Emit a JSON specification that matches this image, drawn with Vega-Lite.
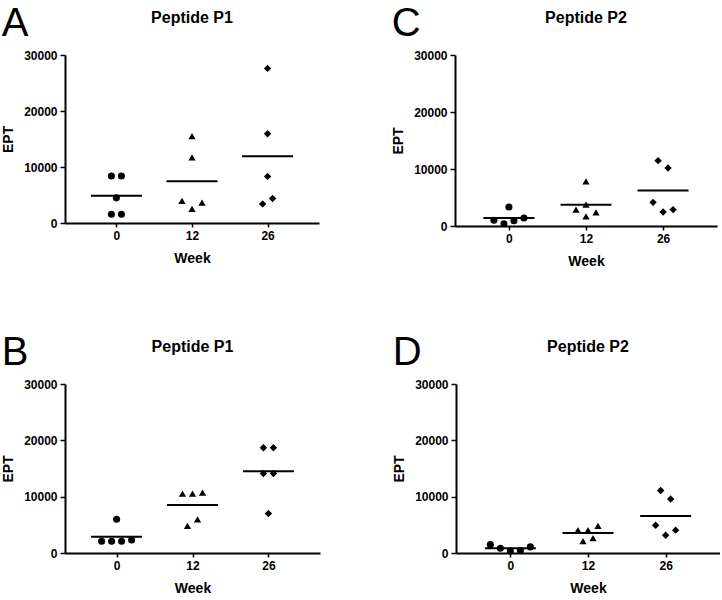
{
  "$schema": "https://vega.github.io/schema/vega-lite/v6.json",
  "padding": {"left": 1, "top": 4, "right": 0, "bottom": 0},
  "background": "white",
  "config": {
    "view": {"stroke": null},
    "font": "Liberation Sans",
    "axis": {
      "domainColor": "black", "domainWidth": 2, "tickColor": "black", "tickWidth": 1.5,
      "labelColor": "black", "labelFont": "Liberation Sans", "labelFontWeight": "bold", "labelFontSize": 12,
      "titleFont": "Liberation Sans", "titleFontWeight": "bold", "titleFontSize": 14, "titleColor": "black",
      "grid": false
    },
    "axisX": {"tickSize": 4, "labelAngle": 0, "labelPadding": 3, "titlePadding": 10},
    "axisY": {"tickSize": 5, "labelPadding": 3, "titlePadding": 8}
  },
  "datasets": {
    "ept": [
      {"panel": "A", "week": "0", "lane": -1, "ept": 8383},
      {"panel": "A", "week": "0", "lane": 1, "ept": 8383},
      {"panel": "A", "week": "0", "lane": 0, "ept": 4491},
      {"panel": "A", "week": "0", "lane": -1, "ept": 1557},
      {"panel": "A", "week": "0", "lane": 1, "ept": 1557},
      {"panel": "A", "week": "12", "lane": 0, "ept": 15509},
      {"panel": "A", "week": "12", "lane": 0, "ept": 11737},
      {"panel": "A", "week": "12", "lane": -2, "ept": 3952},
      {"panel": "A", "week": "12", "lane": 0, "ept": 2515},
      {"panel": "A", "week": "12", "lane": 2, "ept": 3653},
      {"panel": "A", "week": "26", "lane": 0, "ept": 27605},
      {"panel": "A", "week": "26", "lane": 0, "ept": 15928},
      {"panel": "A", "week": "26", "lane": 0, "ept": 8323},
      {"panel": "A", "week": "26", "lane": -1, "ept": 3413},
      {"panel": "A", "week": "26", "lane": 1, "ept": 4371},
      {"panel": "C", "week": "0", "lane": 0, "ept": 3333},
      {"panel": "C", "week": "0", "lane": -3, "ept": 994},
      {"panel": "C", "week": "0", "lane": -1, "ept": 409},
      {"panel": "C", "week": "0", "lane": 1, "ept": 936},
      {"panel": "C", "week": "0", "lane": 3, "ept": 1404},
      {"panel": "C", "week": "12", "lane": 0, "ept": 7836},
      {"panel": "C", "week": "12", "lane": 0, "ept": 3743},
      {"panel": "C", "week": "12", "lane": -2, "ept": 2866},
      {"panel": "C", "week": "12", "lane": 0, "ept": 1696},
      {"panel": "C", "week": "12", "lane": 2, "ept": 2398},
      {"panel": "C", "week": "26", "lane": -1, "ept": 11462},
      {"panel": "C", "week": "26", "lane": 1, "ept": 10175},
      {"panel": "C", "week": "26", "lane": -2, "ept": 4152},
      {"panel": "C", "week": "26", "lane": 0, "ept": 2456},
      {"panel": "C", "week": "26", "lane": 2, "ept": 2866},
      {"panel": "B", "week": "0", "lane": 0, "ept": 5988},
      {"panel": "B", "week": "0", "lane": -3, "ept": 2075},
      {"panel": "B", "week": "0", "lane": -1, "ept": 2075},
      {"panel": "B", "week": "0", "lane": 1, "ept": 2075},
      {"panel": "B", "week": "0", "lane": 3, "ept": 2312},
      {"panel": "B", "week": "12", "lane": -2, "ept": 10554},
      {"panel": "B", "week": "12", "lane": 0, "ept": 10554},
      {"panel": "B", "week": "12", "lane": 2, "ept": 10731},
      {"panel": "B", "week": "12", "lane": -1, "ept": 4802},
      {"panel": "B", "week": "12", "lane": 1, "ept": 5988},
      {"panel": "B", "week": "26", "lane": -1, "ept": 18676},
      {"panel": "B", "week": "26", "lane": 1, "ept": 18676},
      {"panel": "B", "week": "26", "lane": -1, "ept": 14111},
      {"panel": "B", "week": "26", "lane": 1, "ept": 14111},
      {"panel": "B", "week": "26", "lane": 0, "ept": 6996},
      {"panel": "D", "week": "0", "lane": -4, "ept": 1486},
      {"panel": "D", "week": "0", "lane": -2, "ept": 857},
      {"panel": "D", "week": "0", "lane": 0, "ept": 343},
      {"panel": "D", "week": "0", "lane": 2, "ept": 457},
      {"panel": "D", "week": "0", "lane": 4, "ept": 1086},
      {"panel": "D", "week": "12", "lane": -2, "ept": 4057},
      {"panel": "D", "week": "12", "lane": 0, "ept": 4057},
      {"panel": "D", "week": "12", "lane": 2, "ept": 4800},
      {"panel": "D", "week": "12", "lane": -1, "ept": 2114},
      {"panel": "D", "week": "12", "lane": 1, "ept": 2628},
      {"panel": "D", "week": "26", "lane": -1, "ept": 11085},
      {"panel": "D", "week": "26", "lane": 1, "ept": 9600},
      {"panel": "D", "week": "26", "lane": -2, "ept": 4914},
      {"panel": "D", "week": "26", "lane": 2, "ept": 4057},
      {"panel": "D", "week": "26", "lane": 0, "ept": 3143}
    ]
  },
  "spacing": 65,
  "vconcat": [
    {
      "spacing": 72,
      "hconcat": [
        {
          "title": {"text": "A", "anchor": "start", "frame": "bounds", "fontSize": 40, "fontWeight": "normal", "font": "Liberation Sans", "offset": -34, "color": "black"},
          "hconcat": [{
            "width": 254, "height": 168,
            "title": {"text": "Peptide P1", "anchor": "middle", "frame": "group", "fontSize": 16, "fontWeight": "bold", "font": "Liberation Sans", "offset": 23, "color": "black"},
            "data": {"name": "ept"},
            "transform": [{"filter": "datum.panel == 'A'"}],
            "encoding": {"x": {"field": "week", "type": "ordinal", "sort": ["0", "12", "26"], "scale": {"type": "point", "padding": 0.68}, "axis": {"title": "Week"}}},
            "layer": [
              {"mark": {"type": "point", "filled": true, "opacity": 1, "color": "black"},
               "encoding": {
                 "y": {"field": "ept", "type": "quantitative", "scale": {"domain": [0, 30000], "nice": false}, "axis": {"title": "EPT", "values": [0, 10000, 20000, 30000], "format": "d"}},
                 "xOffset": {"field": "lane", "type": "quantitative", "scale": {"domain": [-4, 4], "range": [-20, 20]}},
                 "shape": {"field": "week", "type": "nominal", "scale": {"domain": ["0", "12", "26"], "range": ["circle", "triangle-up", "diamond"]}, "legend": null},
                 "size": {"field": "week", "type": "nominal", "scale": {"domain": ["0", "12", "26"], "range": [50, 55, 40]}, "legend": null}
               }},
              {"mark": {"type": "tick", "size": 51, "thickness": 2, "color": "black"},
               "encoding": {"y": {"aggregate": "mean", "field": "ept", "type": "quantitative", "axis": {"title": "EPT"}}}}
            ]
          }]
        },
        {
          "title": {"text": "C", "anchor": "start", "frame": "bounds", "fontSize": 40, "fontWeight": "normal", "font": "Liberation Sans", "offset": -34, "color": "black"},
          "hconcat": [{
            "width": 262, "height": 171,
            "title": {"text": "Peptide P2", "anchor": "middle", "frame": "group", "fontSize": 16, "fontWeight": "bold", "font": "Liberation Sans", "offset": 23, "color": "black"},
            "data": {"name": "ept"},
            "transform": [{"filter": "datum.panel == 'C'"}],
            "encoding": {"x": {"field": "week", "type": "ordinal", "sort": ["0", "12", "26"], "scale": {"type": "point", "padding": 0.7}, "axis": {"title": "Week"}}},
            "layer": [
              {"mark": {"type": "point", "filled": true, "opacity": 1, "color": "black"},
               "encoding": {
                 "y": {"field": "ept", "type": "quantitative", "scale": {"domain": [0, 30000], "nice": false}, "axis": {"title": "EPT", "values": [0, 10000, 20000, 30000], "format": "d"}},
                 "xOffset": {"field": "lane", "type": "quantitative", "scale": {"domain": [-4, 4], "range": [-20, 20]}},
                 "shape": {"field": "week", "type": "nominal", "scale": {"domain": ["0", "12", "26"], "range": ["circle", "triangle-up", "diamond"]}, "legend": null},
                 "size": {"field": "week", "type": "nominal", "scale": {"domain": ["0", "12", "26"], "range": [50, 55, 40]}, "legend": null}
               }},
              {"mark": {"type": "tick", "size": 51, "thickness": 2, "color": "black"},
               "encoding": {"y": {"aggregate": "mean", "field": "ept", "type": "quantitative", "axis": {"title": "EPT"}}}}
            ]
          }]
        }
      ]
    },
    {
      "spacing": 72,
      "hconcat": [
        {
          "title": {"text": "B", "anchor": "start", "frame": "bounds", "fontSize": 40, "fontWeight": "normal", "font": "Liberation Sans", "offset": -34, "color": "black"},
          "hconcat": [{
            "width": 255, "height": 169,
            "title": {"text": "Peptide P1", "anchor": "middle", "frame": "group", "fontSize": 16, "fontWeight": "bold", "font": "Liberation Sans", "offset": 23, "color": "black"},
            "data": {"name": "ept"},
            "transform": [{"filter": "datum.panel == 'B'"}],
            "encoding": {"x": {"field": "week", "type": "ordinal", "sort": ["0", "12", "26"], "scale": {"type": "point", "padding": 0.68}, "axis": {"title": "Week"}}},
            "layer": [
              {"mark": {"type": "point", "filled": true, "opacity": 1, "color": "black"},
               "encoding": {
                 "y": {"field": "ept", "type": "quantitative", "scale": {"domain": [0, 30000], "nice": false}, "axis": {"title": "EPT", "values": [0, 10000, 20000, 30000], "format": "d"}},
                 "xOffset": {"field": "lane", "type": "quantitative", "scale": {"domain": [-4, 4], "range": [-20, 20]}},
                 "shape": {"field": "week", "type": "nominal", "scale": {"domain": ["0", "12", "26"], "range": ["circle", "triangle-up", "diamond"]}, "legend": null},
                 "size": {"field": "week", "type": "nominal", "scale": {"domain": ["0", "12", "26"], "range": [50, 55, 40]}, "legend": null}
               }},
              {"mark": {"type": "tick", "size": 51, "thickness": 2, "color": "black"},
               "encoding": {"y": {"aggregate": "mean", "field": "ept", "type": "quantitative", "axis": {"title": "EPT"}}}}
            ]
          }]
        },
        {
          "title": {"text": "D", "anchor": "start", "frame": "bounds", "fontSize": 40, "fontWeight": "normal", "font": "Liberation Sans", "offset": -34, "color": "black"},
          "hconcat": [{
            "width": 264, "height": 169,
            "title": {"text": "Peptide P2", "anchor": "middle", "frame": "group", "fontSize": 16, "fontWeight": "bold", "font": "Liberation Sans", "offset": 23, "color": "black"},
            "data": {"name": "ept"},
            "transform": [{"filter": "datum.panel == 'D'"}],
            "encoding": {"x": {"field": "week", "type": "ordinal", "sort": ["0", "12", "26"], "scale": {"type": "point", "padding": 0.7}, "axis": {"title": "Week"}}},
            "layer": [
              {"mark": {"type": "point", "filled": true, "opacity": 1, "color": "black"},
               "encoding": {
                 "y": {"field": "ept", "type": "quantitative", "scale": {"domain": [0, 30000], "nice": false}, "axis": {"title": "EPT", "values": [0, 10000, 20000, 30000], "format": "d"}},
                 "xOffset": {"field": "lane", "type": "quantitative", "scale": {"domain": [-4, 4], "range": [-20, 20]}},
                 "shape": {"field": "week", "type": "nominal", "scale": {"domain": ["0", "12", "26"], "range": ["circle", "triangle-up", "diamond"]}, "legend": null},
                 "size": {"field": "week", "type": "nominal", "scale": {"domain": ["0", "12", "26"], "range": [50, 55, 40]}, "legend": null}
               }},
              {"mark": {"type": "tick", "size": 51, "thickness": 2, "color": "black"},
               "encoding": {"y": {"aggregate": "mean", "field": "ept", "type": "quantitative", "axis": {"title": "EPT"}}}}
            ]
          }]
        }
      ]
    }
  ]
}
